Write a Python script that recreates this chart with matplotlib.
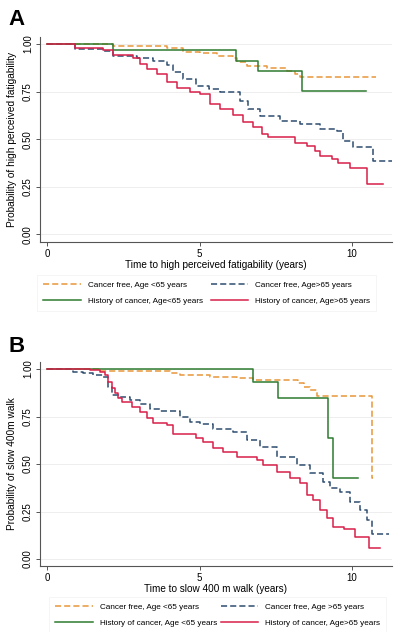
import numpy as np
import matplotlib
matplotlib.use("Agg")
import matplotlib.pyplot as plt
from matplotlib.ticker import FormatStrFormatter

plt.rcParams['font.family'] = ['Liberation Sans', 'DejaVu Sans']

## Data (KM step curves: time in years, survival after that time)
# Panel A - high perceived fatigability
a_cf_young_t = [0, 2.15, 3.92, 4.47, 5.02, 5.56, 6.1, 6.22, 6.55, 7.2, 7.86, 8.13, 8.3, 10.78]
a_cf_young_s = [1.0, 0.991, 0.977, 0.96, 0.953, 0.939, 0.925, 0.903, 0.886, 0.874, 0.86, 0.842, 0.825, 0.825]

a_cf_old_t = [0, 0.92, 1.85, 2.17, 2.94, 3.49, 3.92, 4.14, 4.47, 4.9, 5.3, 5.67, 6.33, 6.6, 6.98,
              7.64, 8.3, 8.95, 9.5, 9.7, 10.04, 10.7, 11.3]
a_cf_old_s = [1.0, 0.974, 0.965, 0.939, 0.925, 0.912, 0.89, 0.851, 0.816, 0.781, 0.765, 0.746, 0.70,
              0.66, 0.62, 0.597, 0.579, 0.553, 0.544, 0.49, 0.457, 0.386, 0.386]

a_hc_young_t = [0, 2.15, 6.2, 6.93, 8.35, 10.45]
a_hc_young_s = [1.0, 0.968, 0.912, 0.856, 0.751, 0.751]

a_hc_old_t = [0, 0.92, 1.85, 2.17, 2.83, 3.05, 3.27, 3.6, 3.92, 4.25, 4.69, 5.02, 5.34, 5.67, 6.1,
              6.43, 6.76, 7.04, 7.25, 8.13, 8.51, 8.79, 8.95, 9.33, 9.55, 9.93, 10.48, 11.03]
a_hc_old_s = [1.0, 0.977, 0.968, 0.942, 0.925, 0.895, 0.868, 0.842, 0.798, 0.767, 0.746, 0.737,
              0.684, 0.658, 0.626, 0.589, 0.563, 0.526, 0.51, 0.482, 0.465, 0.44, 0.412, 0.395,
              0.374, 0.351, 0.263, 0.263]

# Panel B - slow 400 m walk
b_cf_young_t = [0, 1.7, 4.03, 4.36, 5.34, 6.22, 6.33, 6.76, 8.24, 8.41, 8.62, 8.84, 10.64, 10.7]
b_cf_young_s = [1.0, 0.99, 0.977, 0.968, 0.96, 0.955, 0.951, 0.942, 0.925, 0.907, 0.889, 0.86,
                0.428, 0.428]

b_cf_old_t = [0, 0.86, 1.19, 1.52, 1.85, 2.01, 2.12, 2.39, 2.72, 3.05, 3.38, 3.7, 4.36, 4.69, 5.02,
              5.45, 6.11, 6.55, 6.98, 7.53, 8.19, 8.62, 9.06, 9.28, 9.61, 9.93, 10.26, 10.48,
              10.64, 11.2]
b_cf_old_s = [1.0, 0.986, 0.977, 0.968, 0.96, 0.907, 0.863, 0.854, 0.837, 0.814, 0.789, 0.779,
              0.749, 0.723, 0.709, 0.684, 0.667, 0.626, 0.591, 0.539, 0.495, 0.451, 0.407, 0.372,
              0.354, 0.302, 0.258, 0.205, 0.13, 0.13]

b_hc_young_t = [0, 6.74, 7.56, 9.22, 9.39, 10.21]
b_hc_young_s = [1.0, 0.933, 0.849, 0.639, 0.425, 0.425]

b_hc_old_t = [0, 1.41, 1.74, 1.9, 2.01, 2.12, 2.23, 2.34, 2.45, 2.78, 3.05, 3.27, 3.49, 3.92, 4.14,
              4.9, 5.12, 5.45, 5.78, 6.22, 6.88, 7.09, 7.53, 7.97, 8.3, 8.51, 8.73, 8.95, 9.17,
              9.39, 9.72, 10.1, 10.57, 10.92]
b_hc_old_s = [1.0, 0.995, 0.986, 0.968, 0.933, 0.898, 0.872, 0.846, 0.828, 0.802, 0.775, 0.74,
              0.714, 0.705, 0.656, 0.635, 0.617, 0.582, 0.561, 0.539, 0.521, 0.495, 0.46, 0.428,
              0.398, 0.337, 0.311, 0.258, 0.214, 0.17, 0.158, 0.117, 0.06, 0.06]

yticks = [0, 0.25, 0.5, 0.75, 1.0]
xticks = [0, 5, 10]

c_orange = '#E8963A'
c_navy = '#2F4D70'
c_green = '#2E7A30'
c_red = '#D71F48'

fig = plt.figure(figsize=(4, 6.32), dpi=100)


def panel(rect, curves, labels, xlabel, ylabel, letter, letter_y, ylim, leg_box):
    ax = fig.add_axes(rect)
    styles = [dict(color=c_orange, ls=(0, (4, 2))), dict(color=c_navy, ls=(0, (4, 2))),
              dict(color=c_green, ls='-'), dict(color=c_red, ls='-')]
    handles = []
    for (t, s), st, lab in zip(curves, styles, labels):
        h, = ax.step(t, s, where='post', lw=1.1, label=lab, **st)
        handles.append(h)
    ax.set_xlim(-0.23, 11.31)
    ax.set_ylim(*ylim)
    ax.set_yticks(yticks)
    ax.set_xticks(xticks)
    ax.yaxis.set_major_formatter(FormatStrFormatter('%.2f'))
    ax.grid(axis='y', color='#ebebeb', lw=0.6)
    ax.set_axisbelow(True)
    for sp in ['top', 'right']:
        ax.spines[sp].set_visible(False)
    for sp in ['left', 'bottom']:
        ax.spines[sp].set_color('#555555')
        ax.spines[sp].set_linewidth(0.8)
    ax.tick_params(direction='out', length=3, width=0.7, color='#555555',
                   labelsize=7, pad=2)
    for lab in ax.get_yticklabels():
        lab.set_rotation(90)
        lab.set_va('center')
    ax.set_xlabel(xlabel, fontsize=7.2, labelpad=1)
    ax.set_ylabel(ylabel, fontsize=7.3, labelpad=4)
    fig.text(0.022, letter_y, letter, fontsize=16, fontweight='bold', va='baseline')
    order = [handles[0], handles[2], handles[1], handles[3]]
    leg = fig.legend(order, [h.get_label() for h in order], loc='center',
                     bbox_to_anchor=leg_box, ncol=2, mode='expand',
                     fontsize=5.9, frameon=True, fancybox=False, edgecolor='#eeeeee',
                     handlelength=4.6, handletextpad=0.8, borderpad=0.75,
                     labelspacing=1.05, columnspacing=1.5)
    leg.get_frame().set_linewidth(0.5)
    return ax


panel([0.1, 0.617, 0.88, 0.3245],
      [(a_cf_young_t, a_cf_young_s), (a_cf_old_t, a_cf_old_s),
       (a_hc_young_t, a_hc_young_s), (a_hc_old_t, a_hc_old_s)],
      ['Cancer free, Age <65 years', 'Cancer free, Age>65 years',
       'History of cancer, Age<65 years', 'History of cancer, Age>65 years'],
      'Time to high perceived fatigability (years)',
      'Probability of high perceived fatigability', 'A', 0.960, (-0.04, 1.037),
      (0.083, 0.5364, 0.867, 0.0))

panel([0.1, 0.1044, 0.88, 0.3228],
      [(b_cf_young_t, b_cf_young_s), (b_cf_old_t, b_cf_old_s),
       (b_hc_young_t, b_hc_young_s), (b_hc_old_t, b_hc_old_s)],
      ['Cancer free, Age <65 years', 'Cancer free, Age >65 years',
       'History of cancer, Age <65 years', 'History of cancer, Age>65 years'],
      'Time to slow 400 m walk (years)',
      'Probability of slow 400m walk', 'B', 0.443, (-0.037, 1.037),
      (0.113, 0.027, 0.862, 0.0))

fig.savefig('out.png', dpi=100)
